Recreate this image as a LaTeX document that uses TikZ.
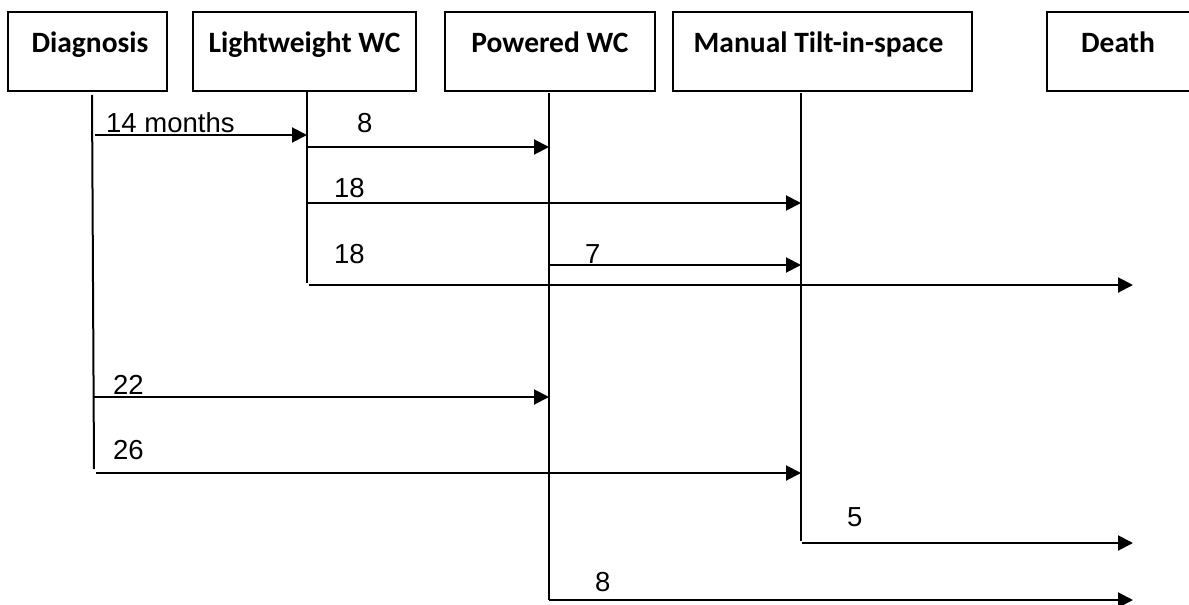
\documentclass[tikz,border=0pt]{standalone}
\usepackage{fontspec}
\newfontfamily\boxfont{Carlito}
\newfontfamily\numfont{Liberation Sans}
\usetikzlibrary{arrows.meta}
\begin{document}
\begin{tikzpicture}[x=1pt,y=-1pt,
  box/.style={draw=black, line width=2pt, inner sep=0pt, minimum height=79pt},
  boxlabel/.style={font=\boxfont\bfseries\fontsize{29.5}{34}\selectfont, anchor=base, inner sep=0pt},
  num/.style={font=\numfont\fontsize{27.5}{32}\selectfont, anchor=base west, inner sep=0pt},
  lifeline/.style={line width=2pt},
  flow/.style={line width=2pt, -{Triangle[length=15pt,width=15pt]}}]
\useasboundingbox (0,0) rectangle (1189,605);

% boxes
\node[box, minimum width=159pt] (diag) at (87.5,51.5) {};
\node[box, minimum width=223pt] (light) at (304.5,51.5) {};
\node[box, minimum width=210pt] (powered) at (550,51.5) {};
\node[box, minimum width=299pt] (manual) at (822.5,51.5) {};
\node[box, minimum width=146pt] (death) at (1120,51.5) {};

\node[boxlabel] (diagT) at (90,52) {Diagnosis};
\node[boxlabel] (lightT) at (304.5,52) {Lightweight WC};
\node[boxlabel] (poweredT) at (550,52) {Powered WC};
\node[boxlabel] (manualT) at (818.5,52) {Manual Tilt-in-space};
\node[boxlabel] (deathT) at (1118,52) {Death};

% lifelines
\coordinate (dTop) at (92,95);
\coordinate (dBot) at (94,469);
\coordinate (lBot) at (307,283);
\coordinate (pTop) at (549,93);
\coordinate (pBot) at (549,600);
\coordinate (mTop) at (801,93);
\coordinate (mBot) at (801,541);
\draw[lifeline] (dTop) -- (dBot);
\draw[lifeline] (light.south -| lBot) -- (lBot);
\draw[lifeline] (pTop) -- (pBot);
\draw[lifeline] (mTop) -- (mBot);

% transitions
\coordinate (a1s) at (95,135);  \coordinate (a1e) at (307,135);
\coordinate (a2s) at (307,147); \coordinate (a2e) at (549,147);
\coordinate (a3s) at (307,203); \coordinate (a3e) at (801,203);
\coordinate (a4s) at (549,265); \coordinate (a4e) at (801,265);
\coordinate (a5s) at (309,285); \coordinate (a5e) at (1133,285);
\coordinate (a6s) at (94,397);  \coordinate (a6e) at (549,397);
\coordinate (a7s) at (96,473);  \coordinate (a7e) at (801,473);
\coordinate (a8s) at (802,543); \coordinate (a8e) at (1133,543);
\coordinate (a9s) at (549,600); \coordinate (a9e) at (1133,600);
\draw[flow] (a1s) -- (a1e);
\draw[flow] (a2s) -- (a2e);
\draw[flow] (a3s) -- (a3e);
\draw[flow] (a4s) -- (a4e);
\draw[flow] (a5s) -- (a5e);
\draw[flow] (a6s) -- (a6e);
\draw[flow] (a7s) -- (a7e);
\draw[flow] (a8s) -- (a8e);
\draw[flow] (a9s) -- (a9e);

% labels
\node[num] (n1) at (106,132) {14 months};
\node[num] (n2) at (357,132) {8};
\node[num] (n3) at (334,197) {18};
\node[num] (n4) at (585,263) {7};
\node[num] (n5) at (334,263) {18};
\node[num] (n6) at (113,394) {22};
\node[num] (n7) at (113,459) {26};
\node[num] (n8) at (847,526) {5};
\node[num] (n9) at (595,591) {8};
\end{tikzpicture}
\end{document}
